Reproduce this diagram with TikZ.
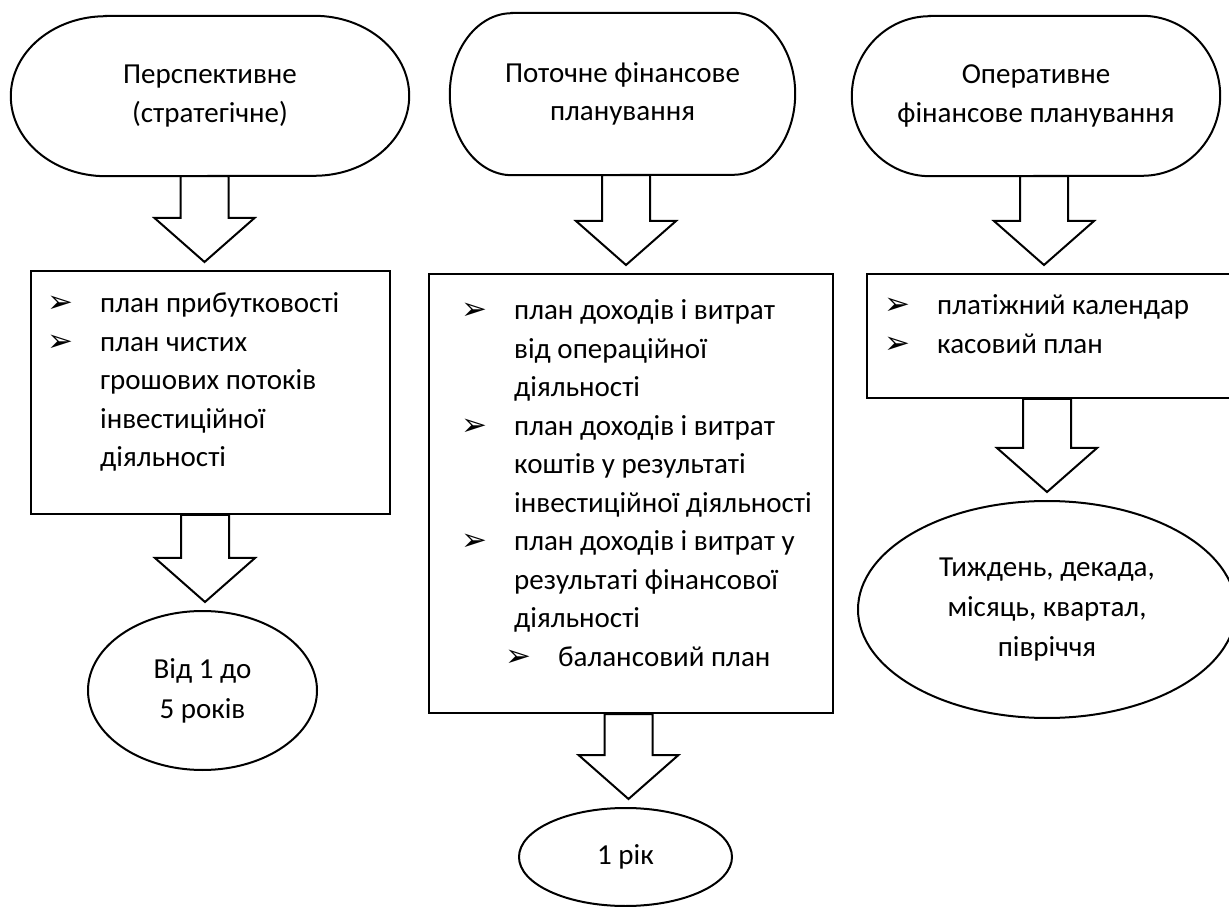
\documentclass[tikz,border=0pt]{standalone}
\usepackage{fontspec}
\setmainfont{Carlito}
\newfontfamily\bulletfont{DejaVu Sans}
\usetikzlibrary{calc,shapes.geometric}
\tikzstyle{term}=[rectangle,draw=none,inner sep=0pt,align=center]
\tikzstyle{plan}=[rectangle,draw=black,line width=2pt,inner sep=0pt]
\tikzstyle{period}=[ellipse,draw=black,line width=2pt,inner sep=0pt,align=center,
font=\fontsize{29}{40}\selectfont]
\tikzstyle{items}=[inner sep=0pt,anchor=base west]
\tikzstyle{fat}=[draw=black,fill=white,line width=2pt,line join=miter]
\tikzstyle{outline}=[draw=black,line width=2pt]

\newcommand{\pnt}{\llap{{\bulletfont\fontsize{31}{31}\selectfont ➢}\hspace{27pt}}}
\newcommand{\itemlines}[1]{\begin{tabular}[t]{@{}l@{}}#1\end{tabular}}
\newcommand{\termline}[3]{\draw[outline] ([xshift=#2]#1.north west) -- ([xshift=-#2]#1.north east)
  arc[start angle=90,end angle=-90,x radius=#2,y radius=#3] -- ([xshift=#2]#1.south west)
  arc[start angle=270,end angle=90,x radius=#2,y radius=#3] -- cycle;}
\newcommand{\fatarrow}[3]{\draw[fat] let \p1=($(#1)+(#3,0)$), \p2=(#2) in
  (\x1-24pt,\y1) -- (\x1+24pt,\y1) -- (\x1+24pt,\y2+52pt) -- (\x1+50pt,\y2+52pt)
  -- (\x1,\y2+8pt) -- (\x1-50pt,\y2+52pt) -- (\x1-24pt,\y2+52pt) -- cycle;}

\begin{document}
\begin{tikzpicture}[x=1pt,y=1pt,font=\fontsize{29}{38.5}\selectfont]

	\useasboundingbox (0,0) rectangle (1229,906);
	\fill[white] (0,0) rectangle (1229,906);

	\node  (t1)  at (210,810) [term,minimum width=398,minimum height=160] {Перспективне\\(стратегічне)};
	\node  (b1)  at (210.5,513.5) [plan,minimum width=359,minimum height=243] {};
	\node  (l1)  at (100,593) [items] {\itemlines{\pnt план прибутковості\\ \pnt план чистих\\ грошових потоків\\ інвестиційної\\ діяльності}};
	\node  (e1)  at (202.5,215.5) [period,minimum width=229,minimum height=159] {Від 1 до\\5 років};

	\node  (t2)  at (622.5,812) [term,minimum width=345,minimum height=162] {Поточне фінансове\\планування};
	\node  (b2)  at (631,412.5) [plan,minimum width=404,minimum height=439] {};
	\node  (l2)  at (514,586) [items] {\itemlines{\pnt план доходів і витрат\\ від операційної\\ діяльності\\ \pnt план доходів і витрат\\ коштів у результаті\\ інвестиційної діяльності\\ \pnt план доходів і витрат у\\ результаті фінансової\\ діяльності\\ \hspace{44pt}\pnt балансовий план}};
	\node  (e2)  at (625.5,49) [period,minimum width=213,minimum height=98] {1 рік};

	\node  (t3)  at (1036,810) [term,minimum width=368,minimum height=160] {Оперативне\\фінансове планування};
	\node  (b3)  at (1049.5,570) [plan,minimum width=365,minimum height=124] {};
	\node  (l3)  at (937,591) [items] {\itemlines{\pnt платіжний календар\\ \pnt касовий план}};
	\node  (e3)  at (1047,296.5) [period,minimum width=378,minimum height=217] {Тиждень, декада,\\місяць, квартал,\\півріччя};

	\termline{t1}{95}{80}
	\termline{t2}{62}{81}
	\termline{t3}{78}{80}

	\fatarrow{t1.south}{b1.north}{-5.5}
	\fatarrow{b1.south}{e1.north}{-5.5}
	\fatarrow{t2.south}{b2.north}{3.5}
	\fatarrow{b2.south}{e2.north}{-2.5}
	\fatarrow{t3.south}{b3.north}{8}
	\fatarrow{b3.south}{e3.north}{-2.5}

\end{tikzpicture}
\end{document}
